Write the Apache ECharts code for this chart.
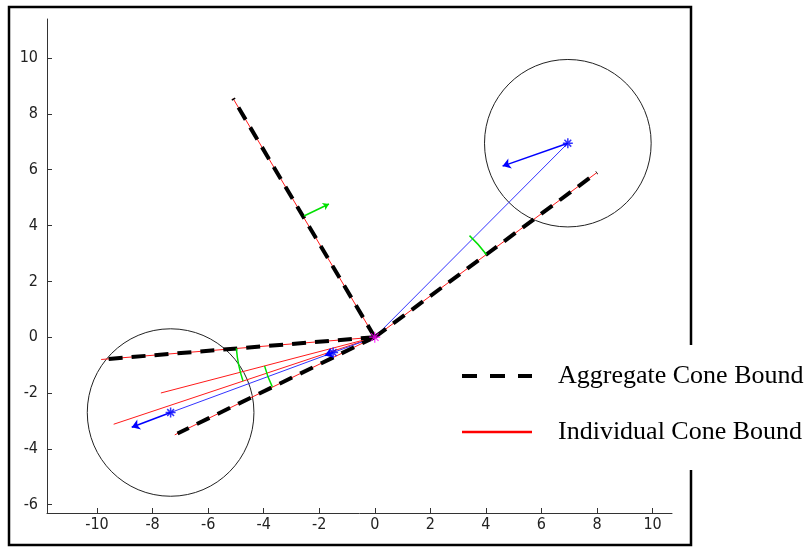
<!DOCTYPE html>
<html>
<head>
<meta charset="utf-8">
<script src="https://cdn.jsdelivr.net/npm/echarts@6/dist/echarts.min.js"></script>
<style>
  html, body { margin: 0; padding: 0; background: #fff; }
  #chart { width: 812px; height: 550px; }
</style>
</head>
<body>
<div id="chart"></div>
<script>
// tick labels
const xTicks = [-10, -8, -6, -4, -2, 0, 2, 4, 6, 8, 10]
const yTicks = [-6, -4, -2, 0, 2, 4, 6, 8, 10]

// shared apex of all cones
const origin = [0, 0]
// aggregate cone bounds: end points of the rays from the origin
const aggregateEnds = [[-5.1, 8.55], [8.0, 5.9], [-9.85, -0.8], [-7.1, -3.45]]
// individual cone bounds: end points of the rays from the origin
const individualEnds = [[-5.1, 8.55], [8.0, 5.9], [-9.85, -0.8], [-7.2, -3.5], [-7.7, -2.0], [-9.4, -3.12]]
// blue targets (stars) and the tips of their velocity arrows
const targets = [[6.95, 6.95], [-7.35, -2.7], [-1.5, -0.55]]
const arrowTips = [[4.6, 6.13], [-8.75, -3.23], [-1.8, -0.66]]
// lines of sight from the origin to these targets
const sightTargets = [[6.95, 6.95], [-7.35, -2.7]]
// uncertainty circles: centre x, centre y, radius
const circles = [[6.95, 6.95, 3.0], [-7.35, -2.7, 3.0]]
// green angle arcs about the origin: radius, from angle, to angle (degrees)
const arcs = [[5.0, 36.4, 47.0], [5.0, 184.6, 198.4], [4.1, 194.6, 205.9]]
// green normal arrow on the upper-left bound: start, tip
const normalArrow = [[-2.55, 4.34], [-1.65, 4.77]]

const chart = echarts.init(document.getElementById("chart"))

const asterisk = "path://M5,0L5,10M0,5L10,5M1.6,1.6L8.4,8.4M8.4,1.6L1.6,8.4"
const tickFont = "'DejaVu Sans Condensed', 'Liberation Sans Narrow', 'DejaVu Sans', sans-serif"

const series = []

// red individual bounds (under the black dashes)
individualEnds.forEach((p) => {
  series.push({
    name: "Individual Cone Bound",
    type: "line",
    data: [origin, p],
    symbol: "none",
    silent: true,
    z: 2,
    lineStyle: { color: "#ff1a1a", width: 1 },
  })
})

// black dashed aggregate bounds
aggregateEnds.forEach((p) => {
  series.push({
    name: "Aggregate Cone Bound",
    type: "line",
    data: [origin, p],
    symbol: "none",
    silent: true,
    z: 3,
    lineStyle: { color: "#000", width: 4, type: [14, 9], cap: "butt" },
  })
})

// blue lines of sight
sightTargets.forEach((p) => {
  series.push({
    type: "line",
    data: [origin, p],
    symbol: "none",
    silent: true,
    z: 2,
    lineStyle: { color: "#3333ff", width: 1 },
  })
})

// blue velocity arrows
series.push({
  type: "lines",
  coordinateSystem: "cartesian2d",
  silent: true,
  z: 4,
  symbol: ["none", "arrow"],
  symbolSize: 8,
  lineStyle: { color: "#0000ff", width: 1.5, opacity: 1 },
  data: targets.map((t, i) => ({ coords: [t, arrowTips[i]] })),
})

// green normal arrow
series.push({
  type: "lines",
  coordinateSystem: "cartesian2d",
  silent: true,
  z: 4,
  symbol: ["none", "arrow"],
  symbolSize: 6,
  lineStyle: { color: "#00e000", width: 1.5, opacity: 1 },
  data: [{ coords: normalArrow }],
})

// green angle arcs
series.push({
  type: "custom",
  silent: true,
  z: 5,
  data: arcs,
  renderItem: (params, api) => {
    const c = api.coord(origin)
    const r = api.size([api.value(0), 0])[0]
    return {
      type: "arc",
      shape: {
        cx: c[0],
        cy: c[1],
        r: r,
        startAngle: (-api.value(2) * Math.PI) / 180,
        endAngle: (-api.value(1) * Math.PI) / 180,
        clockwise: true,
      },
      style: { stroke: "#00e000", lineWidth: 1.5, fill: null },
    }
  },
})

// uncertainty circles
series.push({
  type: "custom",
  silent: true,
  z: 1,
  data: circles,
  renderItem: (params, api) => {
    const c = api.coord([api.value(0), api.value(1)])
    const s = api.size([api.value(2), api.value(2)])
    return {
      type: "ellipse",
      shape: { cx: c[0], cy: c[1], rx: s[0], ry: s[1] },
      style: { stroke: "#222", lineWidth: 1, fill: null },
    }
  },
})

// stars: blue targets and magenta origin
series.push({
  type: "scatter",
  silent: true,
  z: 6,
  data: targets,
  symbol: asterisk,
  symbolSize: 10,
  itemStyle: { color: "rgba(0,0,0,0)", borderColor: "#0000ff", borderWidth: 1.5 },
})
series.push({
  type: "scatter",
  silent: true,
  z: 6,
  data: [origin],
  symbol: asterisk,
  symbolSize: 11,
  itemStyle: { color: "rgba(0,0,0,0)", borderColor: "#ff00ff", borderWidth: 1.2 },
})

const option = {
  animation: false,
  backgroundColor: "#fff",
  grid: { left: 47, right: 140, top: 19, bottom: 37 },
  xAxis: {
    type: "value",
    min: -11.8,
    max: 10.7,
    splitLine: { show: false },
    axisLine: { onZero: false, lineStyle: { color: "#333", width: 1 } },
    axisTick: { inside: true, length: 5, customValues: xTicks, lineStyle: { color: "#333" } },
    axisLabel: { customValues: xTicks, color: "#222", fontSize: 16, fontFamily: tickFont, margin: 4 },
  },
  yAxis: {
    type: "value",
    min: -6.3,
    max: 11.4,
    splitLine: { show: false },
    axisLine: { show: true, onZero: false, lineStyle: { color: "#333", width: 1 } },
    axisTick: { show: true, inside: true, length: 5, customValues: yTicks, lineStyle: { color: "#333" } },
    axisLabel: { customValues: yTicks, color: "#222", fontSize: 16, fontFamily: tickFont, margin: 9 },
  },
  legend: {
    data: [
      { name: "Aggregate Cone Bound", itemStyle: { opacity: 0 }, lineStyle: { type: [15, 13], width: 4 } },
      { name: "Individual Cone Bound", itemStyle: { opacity: 0 }, lineStyle: { width: 2.5, color: "#ff0000" } },
    ],
    orient: "vertical",
    left: 455,
    top: 358,
    itemWidth: 70,
    itemHeight: 6,
    itemGap: 30,
    selectedMode: false,
    z: 10,
    textStyle: {
      fontFamily: "'Liberation Serif', 'Times New Roman', serif",
      fontSize: 26,
      color: "#000",
      padding: [0, 0, 0, 21],
    },
  },
  graphic: [
    {
      type: "rect",
      z: 0,
      shape: { x: 9, y: 7, width: 682, height: 538 },
      style: { fill: null, stroke: "#000", lineWidth: 2.5 },
      silent: true,
    },
    {
      type: "rect",
      z: 1,
      shape: { x: 440, y: 345, width: 372, height: 125 },
      style: { fill: "#fff" },
      silent: true,
    },
  ],
  series: series,
}

chart.setOption(option)
</script>
</body>
</html>
